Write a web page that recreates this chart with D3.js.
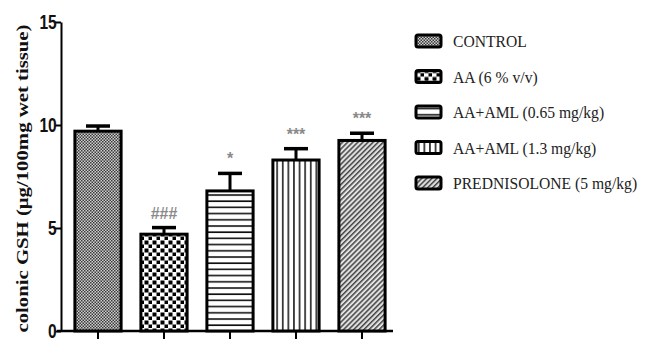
<!DOCTYPE html>
<html>
<head>
<meta charset="utf-8">
<script src="https://cdn.jsdelivr.net/npm/d3@7"></script>
<style>
  html, body { margin: 0; padding: 0; background: #fff; }
  svg { display: block; }
</style>
</head>
<body>
<svg id="chart" width="649" height="342"></svg>
<script>
// Groups, mean colonic GSH and SEM
const groups = ["CONTROL", "AA (6 % v/v)", "AA+AML (0.65 mg/kg)", "AA+AML (1.3 mg/kg)", "PREDNISOLONE (5 mg/kg)"];
const means = [9.7, 4.7, 6.8, 8.3, 9.25];
const sems = [0.25, 0.32, 0.85, 0.55, 0.35];
const marks = ["", "###", "*", "***", "***"];
const patternIds = ["p-control", "p-aa", "p-aml1", "p-aml2", "p-pred"];
const yTicks = [0, 5, 10, 15];

const svg = d3.select("#chart");
const defs = svg.append("defs");

// Fill patterns for each group
(function makePatterns() {
  // fine grey checker
  let p = defs.append("pattern").attr("id", "p-control").attr("patternUnits", "userSpaceOnUse")
    .attr("width", 3).attr("height", 3);
  p.append("rect").attr("width", 3).attr("height", 3).attr("fill", "#cfcfcf");
  p.append("rect").attr("width", 1.5).attr("height", 1.5).attr("fill", "#3a3a3a");
  p.append("rect").attr("x", 1.5).attr("y", 1.5).attr("width", 1.5).attr("height", 1.5).attr("fill", "#3a3a3a");

  // coarse checkerboard
  p = defs.append("pattern").attr("id", "p-aa").attr("patternUnits", "userSpaceOnUse")
    .attr("width", 8).attr("height", 8);
  p.append("rect").attr("width", 8).attr("height", 8).attr("fill", "#fff");
  p.append("rect").attr("x", 0.5).attr("y", 0.5).attr("width", 4).attr("height", 4).attr("fill", "#000");
  p.append("rect").attr("x", 4.5).attr("y", 4.5).attr("width", 4).attr("height", 4).attr("fill", "#000");

  // horizontal lines
  p = defs.append("pattern").attr("id", "p-aml1").attr("patternUnits", "userSpaceOnUse")
    .attr("width", 6).attr("height", 6.2);
  p.append("rect").attr("width", 6).attr("height", 6.2).attr("fill", "#fff");
  p.append("rect").attr("y", 2).attr("width", 6).attr("height", 1.6).attr("fill", "#111");

  // vertical lines
  p = defs.append("pattern").attr("id", "p-aml2").attr("patternUnits", "userSpaceOnUse")
    .attr("width", 5.6).attr("height", 6);
  p.append("rect").attr("width", 5.6).attr("height", 6).attr("fill", "#fff");
  p.append("rect").attr("x", 2).attr("width", 1.5).attr("height", 6).attr("fill", "#111");

  // diagonal hatching
  p = defs.append("pattern").attr("id", "p-pred").attr("patternUnits", "userSpaceOnUse")
    .attr("width", 3.6).attr("height", 3.6).attr("patternTransform", "rotate(45)");
  p.append("rect").attr("width", 3.6).attr("height", 3.6).attr("fill", "#e2e2e2");
  p.append("rect").attr("width", 1.5).attr("height", 3.6).attr("fill", "#444");
})();

const plot = { left: 61, right: 393, top: 22, bottom: 331 };

const x = d3.scaleBand().domain(groups).range([plot.left + 4, plot.right + 2]).paddingInner(0.3).paddingOuter(0.15);
const y = d3.scaleLinear().domain([0, 15]).range([plot.bottom, plot.top]);

// Y axis
const yAxis = svg.append("g").attr("transform", `translate(${plot.left},0)`)
  .call(d3.axisLeft(y).tickValues(yTicks).tickSize(6).tickSizeOuter(0).tickPadding(2));
yAxis.select(".domain").attr("stroke", "#000").attr("stroke-width", 2);
yAxis.selectAll(".tick line").attr("stroke", "#000").attr("stroke-width", 2);
yAxis.selectAll(".tick text")
  .attr("font-family", "'Liberation Sans', Arial, sans-serif")
  .attr("font-weight", "bold").attr("font-size", 20).attr("fill", "#111")
  .attr("text-anchor", "end")
  .attr("transform", "translate(2,0) scale(0.78,1)");

// X axis
const xAxis = svg.append("g").attr("transform", `translate(0,${plot.bottom})`)
  .call(d3.axisBottom(x).tickSize(8).tickSizeOuter(0).tickFormat(""));
xAxis.select(".domain").attr("stroke", "#000").attr("stroke-width", 2.5)
  .attr("d", `M${plot.left - 4},0H${plot.right}`);
xAxis.selectAll(".tick line").attr("stroke", "#000").attr("stroke-width", 2);

// Y axis title
svg.append("text")
  .attr("transform", `translate(28,${(plot.top + plot.bottom) / 2 + 2}) rotate(-90)`)
  .attr("text-anchor", "middle")
  .attr("font-family", "'Liberation Serif', 'Times New Roman', serif")
  .attr("font-weight", "bold").attr("font-size", 17).attr("fill", "#111")
  .attr("textLength", 308).attr("lengthAdjust", "spacingAndGlyphs")
  .text("colonic GSH (\u03bcg/100mg wet tissue)");

// Error bars
const eb = svg.append("g");
groups.forEach((g, i) => {
  const cx = x(g) + x.bandwidth() / 2;
  eb.append("line").attr("x1", cx).attr("x2", cx)
    .attr("y1", y(means[i])).attr("y2", y(means[i] + sems[i]))
    .attr("stroke", "#000").attr("stroke-width", 3);
  eb.append("line").attr("x1", cx - 12).attr("x2", cx + 12)
    .attr("y1", y(means[i] + sems[i])).attr("y2", y(means[i] + sems[i]))
    .attr("stroke", "#000").attr("stroke-width", 3.5);
});

// Bars
svg.append("g").selectAll("rect").data(groups).join("rect")
  .attr("x", d => x(d))
  .attr("y", (d, i) => y(means[i]))
  .attr("width", x.bandwidth())
  .attr("height", (d, i) => plot.bottom - y(means[i]))
  .attr("fill", (d, i) => `url(#${patternIds[i]})`)
  .attr("stroke", "#000").attr("stroke-width", 3);

// Significance marks
svg.append("g").selectAll("text").data(groups).join("text")
  .attr("x", d => x(d) + x.bandwidth() / 2)
  .attr("y", (d, i) => y(means[i] + sems[i]) - 9)
  .attr("text-anchor", "middle")
  .attr("font-family", "'Liberation Sans', Arial, sans-serif")
  .attr("font-weight", "bold")
  .attr("font-size", 16).attr("fill", "#8a8a8a")
  .text((d, i) => marks[i]);

// Legend
const legend = svg.append("g").attr("transform", "translate(416,41)");
groups.forEach((g, i) => {
  const row = legend.append("g").attr("transform", `translate(0,${i * 35.5})`);
  row.append("rect").attr("x", 0).attr("y", -6).attr("width", 25).attr("height", 12)
    .attr("rx", 2).attr("fill", `url(#${patternIds[i]})`)
    .attr("stroke", "#000").attr("stroke-width", 3);
  row.append("text").attr("x", 37).attr("y", 6)
    .attr("font-family", "'Liberation Serif', 'Times New Roman', serif")
    .attr("font-size", 17).attr("fill", "#222")
    .attr("transform", "translate(37,0) scale(0.92,1) translate(-37,0)")
    .text(g);
});
</script>
</body>
</html>
